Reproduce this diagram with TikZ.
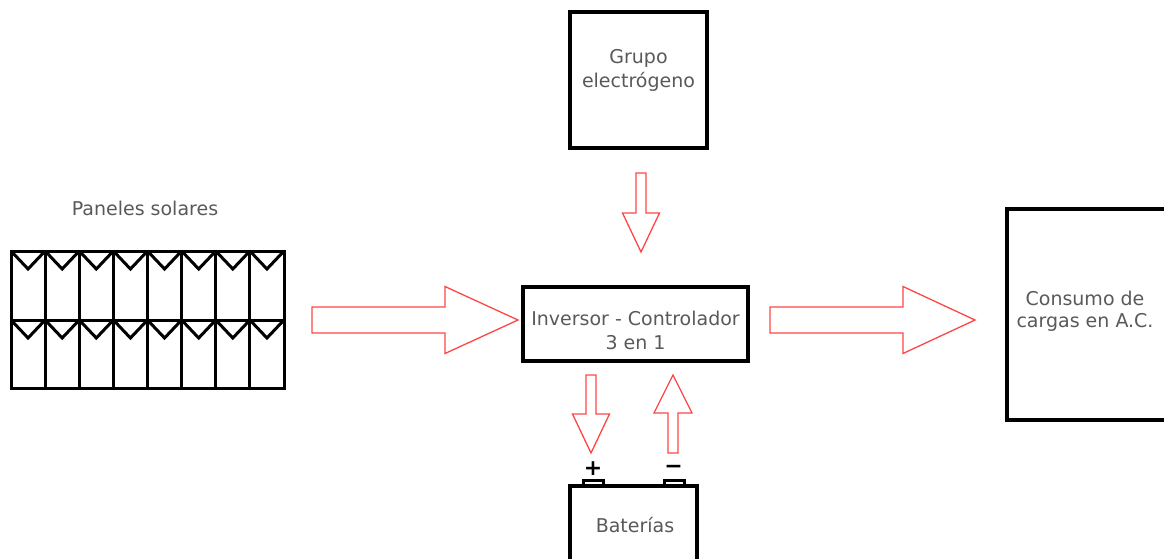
\documentclass[tikz,border=0pt]{standalone}
\usepackage{fontspec}
\setmainfont{DejaVu Sans}
\definecolor{txt}{RGB}{89,89,89}
\definecolor{arr}{RGB}{255,70,70}
\begin{document}
\begin{tikzpicture}[x=1pt,y=-1pt,
  box/.style={draw=black,line width=3.2pt,inner sep=0pt,outer sep=0pt},
  lbl/.style={text=txt,font=\fontsize{19}{24}\selectfont,align=center,inner sep=0pt},
  sign/.style={text=black,font=\bfseries\fontsize{22}{22}\selectfont,inner sep=0pt},
  bigarrow/.style={draw=arr,line width=1.3pt,fill=white,line join=miter},
  panel/.style={draw=black,line width=3pt,line join=miter}]
\useasboundingbox (0,0) rectangle (1164,558);
\clip (0,0) rectangle (1164,558);

% boxes
\node[box,minimum width=137pt,minimum height=136pt] (grupo) at (638.5,80) {};
\node[lbl] (grupotxt) at (638.5,70) {Grupo\\electrógeno};

\node[box,minimum width=225pt,minimum height=74pt] (inv) at (635.5,324) {};
\node[lbl] (invtxt) at (635.5,330) {Inversor - Controlador\\3 en 1};

\node[box,minimum width=160pt,minimum height=211pt] (carga) at (1087,314.5) {};
\node[lbl,font=\fontsize{19}{22}\selectfont] (cargatxt) at (1085,311) {Consumo de\\cargas en A.C.};

% battery
\node[box,line width=3pt,minimum width=20pt,minimum height=6pt] (tpos) at (593,483.5) {};
\node[box,line width=3pt,minimum width=20pt,minimum height=6pt] (tneg) at (674,483.5) {};
\node[box,line width=3.2pt,fill=white,minimum width=127pt,minimum height=114pt] (bat) at (633.5,543) {};
\node[lbl] (battxt) at (635,525) {Baterías};
\node[sign] (plus) at (593,469) {+};
\node[sign] (minus) at (673.5,469) {−};

% solar panel
\node[lbl] (paneltxt) at (145,208) {Paneles solares};
\draw[panel] (11,251) rectangle (284,388);
\draw[panel] (11,320) -- (284,320);
\foreach \i in {1,...,7} {
  \draw[panel] ({11+34.125*\i},251) -- ({11+34.125*\i},388);
}
\foreach \i in {0,...,7} {
  \foreach \yt in {251,320} {
    \draw[panel] ({11+34.125*\i},\yt) -- ({11+34.125*\i+17.06},\yt+18) -- ({11+34.125*(\i+1)},\yt);
  }
}

% block arrows
\draw[bigarrow] (312,307) -- (445,307) -- (445,286.5) -- (518,320) -- (445,353.5) -- (445,333) -- (312,333) -- cycle;
\draw[bigarrow] (770,307) -- (903,307) -- (903,286.5) -- (975,320) -- (903,353.5) -- (903,333) -- (770,333) -- cycle;
\draw[bigarrow] (636,173) -- (646,173) -- (646,213) -- (659.5,213) -- (641,252) -- (622.5,213) -- (636,213) -- cycle;
\draw[bigarrow] (586,375) -- (596,375) -- (596,414) -- (609.5,414) -- (591,453) -- (572.5,414) -- (586,414) -- cycle;
\draw[bigarrow] (668,453) -- (678,453) -- (678,413) -- (692,413) -- (673,375) -- (654,413) -- (668,413) -- cycle;
\end{tikzpicture}
\end{document}
